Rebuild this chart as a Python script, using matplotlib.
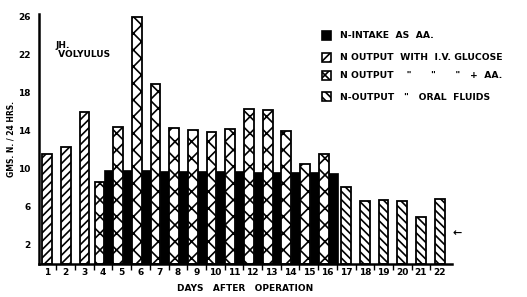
import numpy as np
import matplotlib
matplotlib.use("Agg")
import matplotlib.pyplot as plt
from matplotlib.patches import Rectangle

# Values (gms N / 24 hrs)
iv_days = [1, 2, 3]
iv_output = [11.6, 12.3, 16.0]

aa_days = list(range(4, 17))
aa_output = [8.6, 14.4, 26.0, 18.9, 14.3, 14.1, 13.9, 14.2, 16.3, 16.2, 14.0, 10.5, 11.6]
aa_intake = [9.9, 9.9, 9.9, 9.8, 9.8, 9.8, 9.8, 9.8, 9.7, 9.7, 9.7, 9.7, 9.6]

oral_days = [17, 18, 19, 20, 21, 22]
oral_output = [8.1, 6.6, 6.7, 6.6, 4.9, 6.8]

day_labels = [str(d) for d in range(1, 23)]
y_ticks = [2, 6, 10, 14, 18, 22, 26]

legend_labels = ['N-INTAKE  AS  AA.',
                 'N OUTPUT  WITH  I.V. GLUCOSE',
                 'N OUTPUT    "      "      "   +  AA.',
                 'N-OUTPUT   "   ORAL  FLUIDS']

plt.rcParams['hatch.linewidth'] = 1.2
plt.rcParams['font.weight'] = 'bold'

fig = plt.figure(figsize=(5.27, 2.97), dpi=100)
ax = fig.add_axes([39 / 527, 33 / 297, 413 / 527, 250 / 297])

w = 0.52
ax.bar(iv_days, iv_output, width=w, color='white', edgecolor='black',
       hatch='////', linewidth=1.3)
ax.bar(np.array(aa_days) + 0.3, aa_intake, width=0.5, color='black',
       edgecolor='black', linewidth=0.5)
ax.bar(np.array(aa_days) - 0.2, aa_output, width=w, color='white',
       edgecolor='black', hatch='xx', linewidth=1.3)
ax.bar(oral_days, oral_output, width=w, color='white', edgecolor='black',
       hatch='\\\\\\\\', linewidth=1.3)

ax.set_xlim(0.57, 22.66)
ax.set_ylim(0, 26.3)
ax.set_xticks(range(1, 23))
ax.set_xticklabels(day_labels, fontsize=6.5, fontweight='bold')
ax.set_xticks(np.arange(1.5, 22.5, 1), minor=True)
ax.tick_params(axis='x', which='major', length=0, pad=3)
ax.tick_params(axis='x', which='minor', length=4, width=1, direction='out')
ax.set_yticks(y_ticks)
ax.set_yticklabels([str(t) for t in y_ticks], fontsize=6.5, fontweight='bold')
ax.tick_params(axis='y', length=0, pad=6)

for s in ['top', 'right']:
    ax.spines[s].set_visible(False)
ax.spines['left'].set_linewidth(1.8)
ax.spines['bottom'].set_linewidth(1.8)

ax.set_xlabel('DAYS   AFTER   OPERATION', fontsize=6.5, fontweight='bold',
              labelpad=5)
ax.set_ylabel('GMS. N. / 24 HRS.', fontsize=5.5, fontweight='bold', labelpad=2)

ax.text(1.43, 23.5, 'JH.\n VOLYULUS', fontsize=6.5, fontweight='bold',
        va='top', ha='left', linespacing=1.1)

# arrow mark on the right
ax.text(22.7, 3.3, '\u2190', fontsize=8, va='center', ha='left',
        clip_on=False)

# hand-drawn style legend
hatches = [None, '////', 'xx', '\\\\\\\\']
fills = ['black', 'white', 'white', 'white']
rows_y = [35, 57, 76, 97]
for lab, h, f, yp in zip(legend_labels, hatches, fills, rows_y):
    fy = 1 - yp / 297
    fig.add_artist(Rectangle((322 / 527, fy - 4.5 / 297), 9 / 527, 9 / 297,
                             transform=fig.transFigure, facecolor=f,
                             edgecolor='black', hatch=h, linewidth=1.2))
    fig.text(340 / 527, fy, lab, fontsize=6.7, fontweight='bold',
             va='center', ha='left')

fig.savefig('out.png', dpi=100)
